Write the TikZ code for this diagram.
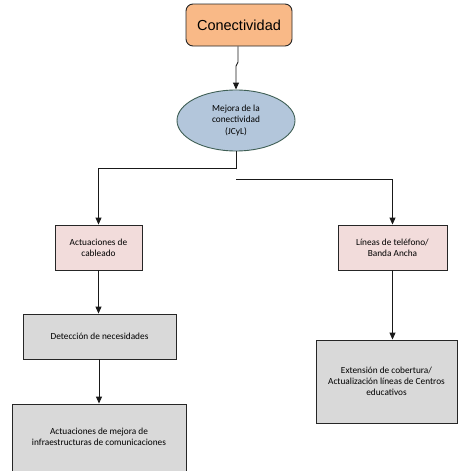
\documentclass[tikz,border=0pt]{standalone}
\usepackage{fontspec}
\setmainfont{Carlito}
\newfontfamily\arialf{Liberation Sans}
\usetikzlibrary{arrows.meta,shapes.geometric}
\definecolor{orangefill}{HTML}{F9B987}
\definecolor{ellfill}{HTML}{B3C6DB}
\definecolor{elldraw}{HTML}{3F5F55}
\definecolor{pinkfill}{HTML}{F2DCDB}
\definecolor{greyfill}{HTML}{D9D9D9}
\begin{document}
\begin{tikzpicture}[x=1pt,y=-1pt,
  base/.style={draw=black!85, line width=0.9pt, align=center, inner sep=0pt, font=\fontsize{9.3}{11.3}\selectfont},
  topbox/.style={base, fill=orangefill, rounded corners=7pt, minimum width=106pt, minimum height=42pt, font=\arialf\fontsize{14.5}{17}\selectfont},
  ellbox/.style={base, ellipse, fill=ellfill, draw=elldraw, minimum width=118pt, minimum height=61pt},
  pinkbox/.style={base, fill=pinkfill},
  greybox/.style={base, fill=greyfill},
  conn/.style={line width=0.9pt, black!90},
  arr/.style={conn, -{Triangle[length=7pt,width=6pt]}}]
\useasboundingbox (0,0) rectangle (458,471);
\clip (0,0) rectangle (458,471);
\node[topbox] (c) at (239,25) {Conectividad};
\node[ellbox] (m) at (236,120.5) {Mejora de la\\conectividad\\(JCyL)};
\node[pinkbox, minimum width=87pt, minimum height=45pt] (ac) at (98.5,247.5) {Actuaciones de\\cableado};
\node[pinkbox, minimum width=109pt, minimum height=45pt] (li) at (392.5,247.5) {Líneas de teléfono/\\Banda Ancha};
\node[greybox, minimum width=153pt, minimum height=45pt] (de) at (99.5,336.5) {Detección de necesidades};
\node[greybox, minimum width=174pt, minimum height=70pt] (am) at (99,439) {};
\node[font=\fontsize{9.3}{11.3}\selectfont, align=center] (amt) at (99,437) {Actuaciones de mejora de\\infraestructuras de comunicaciones};
\node[greybox, minimum width=141pt, minimum height=83pt] (ex) at (386.5,381.5) {Extensión de cobertura/\\Actualización líneas de Centros\\educativos};
\coordinate (j1) at (238,62);
\coordinate (j2) at (236,66);
\coordinate (r0) at (236,179);
\draw[arr] (c.south -| j1) -- (j1) -- (j2) -- (m.north -| j2);
\draw[arr] (m.south) -- ++(0,17) -| (ac.north);
\draw[arr] (r0) -| (li.north);
\draw[arr] (ac.south) -- (de.north -| ac.south);
\draw[arr] (de.south -| am.north) -- (am.north);
\draw[arr] (li.south) -- (ex.north -| li.south);
\end{tikzpicture}
\end{document}
